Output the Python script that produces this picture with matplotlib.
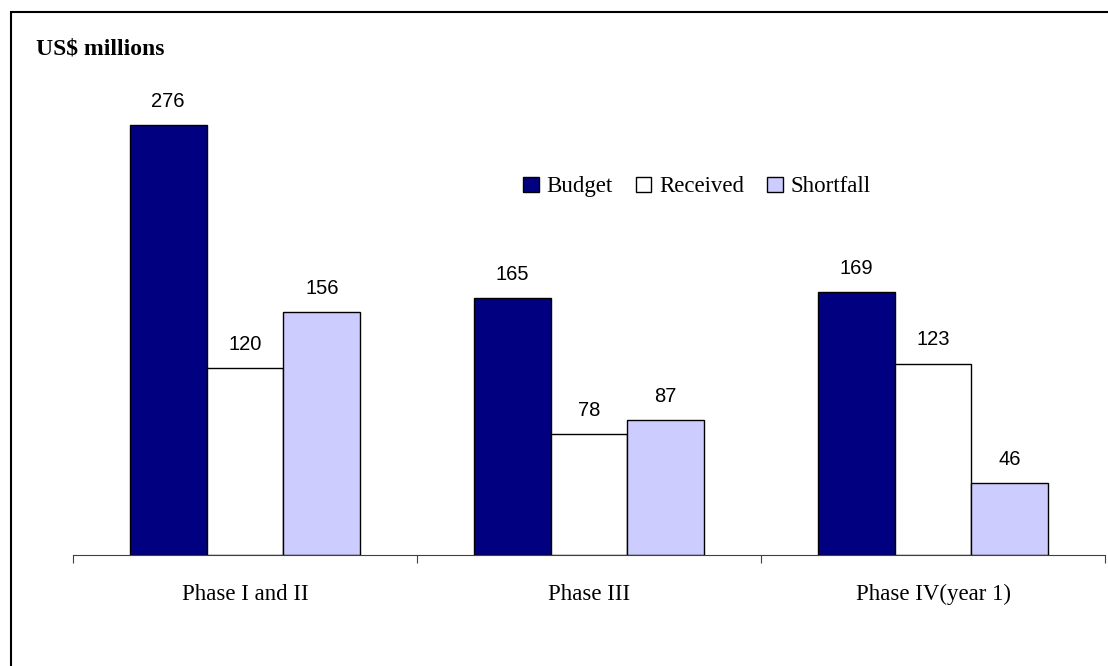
import matplotlib.pyplot as plt
from matplotlib.patches import Patch, Rectangle
import numpy as np

phases = ["Phase I and II", "Phase III", "Phase IV(year 1)"]
series = ["Budget", "Received", "Shortfall"]
budget = [276, 165, 169]
received = [120, 78, 123]
shortfall = [156, 87, 46]
colors = ["#000080", "#FFFFFF", "#CCCCFF"]

W, H = 1108, 666
fig = plt.figure(figsize=(W / 100, H / 100), dpi=100)

# outer frame (runs off the right and bottom edges)
fig.patches.append(Rectangle((11 / W, -0.1), 1.2, 1 - 12 / H + 0.1,
                             transform=fig.transFigure, fill=False,
                             edgecolor="black", linewidth=1.5))

ax = fig.add_axes([73 / W, 111 / H, (1105 - 73) / W, 467 / H])
x = np.arange(len(phases))
width = 0.2232
for i, (name, vals) in enumerate(zip(series, [budget, received, shortfall])):
    pos = x + (i - 1) * width
    ax.bar(pos, vals, width, color=colors[i], edgecolor="black", linewidth=1)
    for p, v in zip(pos, vals):
        ax.annotate(str(v), (p, v), xytext=(0, 13), textcoords="offset points",
                    ha="center", va="baseline", fontsize=14.5,
                    family="Liberation Sans")

ax.set_xlim(-0.5, 2.5)
ax.set_ylim(0, 300)
for s in ["top", "right", "left"]:
    ax.spines[s].set_visible(False)
ax.spines["bottom"].set_color("#404040")
ax.set_yticks([])
ax.set_xticks([-0.5, 0.5, 1.5, 2.5])
ax.set_xticklabels([])
ax.tick_params(axis="x", which="major", direction="out", length=6, color="#404040")
ax.set_xticks(x, minor=True)
ax.set_xticklabels(phases, minor=True, family="Liberation Serif", fontsize=16.5)
ax.tick_params(axis="x", which="minor", length=0, pad=21)

fig.text(36 / W, 1 - 49 / H, "US$ millions", family="Liberation Serif",
         fontweight="bold", fontsize=17, va="center", ha="left")

handles = [Patch(facecolor=c, edgecolor="black", linewidth=1) for c in colors]
fig.legend(handles, series, loc="center", bbox_to_anchor=(697 / W, 1 - 187 / H),
           ncol=3, frameon=False, handlelength=0.68, handleheight=0.68,
           handletextpad=0.35, columnspacing=1.0,
           prop={"family": "Liberation Serif", "size": 16.5})

fig.savefig("out.png", dpi=100)
